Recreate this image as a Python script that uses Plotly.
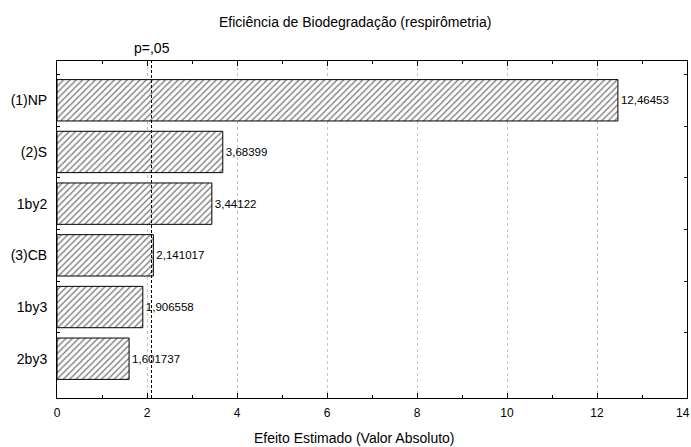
import plotly.graph_objects as go

# Pareto chart of standardized effects
effects = ["(1)NP", "(2)S", "1by2", "(3)CB", "1by3", "2by3"]
abs_effect = [12.46453, 3.68399, 3.44122, 2.141017, 1.906558, 1.601737]
p_critical = 2.1
x_ticks = [0, 2, 4, 6, 8, 10, 12, 14]

value_text = [str(v).replace(".", ",") for v in abs_effect]

FONT = "Liberation Sans, Arial, sans-serif"

fig = go.Figure()
fig.add_trace(go.Bar(
    x=abs_effect,
    y=effects,
    orientation="h",
    width=0.8,
    marker=dict(
        color="white",
        line=dict(color="black", width=1),
        pattern=dict(shape="/", fgcolor="black", bgcolor="white",
                     size=4.5, solidity=0.32),
    ),
    text=value_text,
    textposition="outside",
    constraintext="none",
    cliponaxis=False,
    textfont=dict(family=FONT, size=11.5, color="black"),
    hoverinfo="skip",
))

# significance threshold
fig.add_shape(type="line", xref="x", yref="paper",
              x0=p_critical, x1=p_critical, y0=0, y1=1,
              line=dict(color="black", width=1, dash="3px,2px"))

# last tick label sits on the right edge of the page; the axis would hide it
edge_tick = x_ticks[-1]

fig.update_layout(
    width=691, height=447,
    margin=dict(l=57, r=4, t=61, b=49),
    paper_bgcolor="white", plot_bgcolor="white",
    showlegend=False,
    font=dict(family=FONT, color="black"),
    annotations=[
        dict(text="Eficiência de Biodegradação (respirômetria)",
             xref="paper", yref="paper", x=0.473, y=1, yshift=39,
             xanchor="center", yanchor="middle", showarrow=False,
             font=dict(size=14)),
        dict(text="p=,05", xref="x", yref="paper", x=p_critical, y=1,
             yshift=13, xanchor="center", yanchor="middle",
             showarrow=False, font=dict(size=14)),
        dict(text="Efeito Estimado (Valor Absoluto)",
             xref="paper", yref="paper", x=0.473, y=0, yshift=-40,
             xanchor="center", yanchor="middle", showarrow=False,
             font=dict(size=14)),
        dict(text=str(edge_tick), xref="x", yref="paper", x=edge_tick, y=0,
             yshift=-15, xshift=-4, xanchor="center", yanchor="middle",
             showarrow=False, font=dict(size=12)),
    ],
)

fig.update_xaxes(
    range=[0, 14],
    tickvals=x_ticks[:-1],
    ticktext=[str(t) for t in x_ticks[:-1]],
    ticks="inside", ticklen=5, tickcolor="black",
    minor=dict(dtick=1, ticks="inside", ticklen=3, tickcolor="black",
               showgrid=False),
    showline=True, linecolor="black", linewidth=1, mirror="ticks",
    showgrid=True, gridcolor="#c4c4c4", griddash="dot", gridwidth=1,
    zeroline=False,
    tickfont=dict(size=12),
    ticklabelstandoff=4,
)

fig.update_yaxes(
    type="category",
    categoryorder="array", categoryarray=effects,
    range=[5.76, -0.76],
    tickson="boundaries",
    ticks="inside", ticklen=3, tickcolor="black",
    showline=True, linecolor="black", linewidth=1, mirror="ticks",
    showgrid=False, zeroline=False,
    tickfont=dict(size=14),
    ticklabelstandoff=6,
)

fig.write_html("out.html")
